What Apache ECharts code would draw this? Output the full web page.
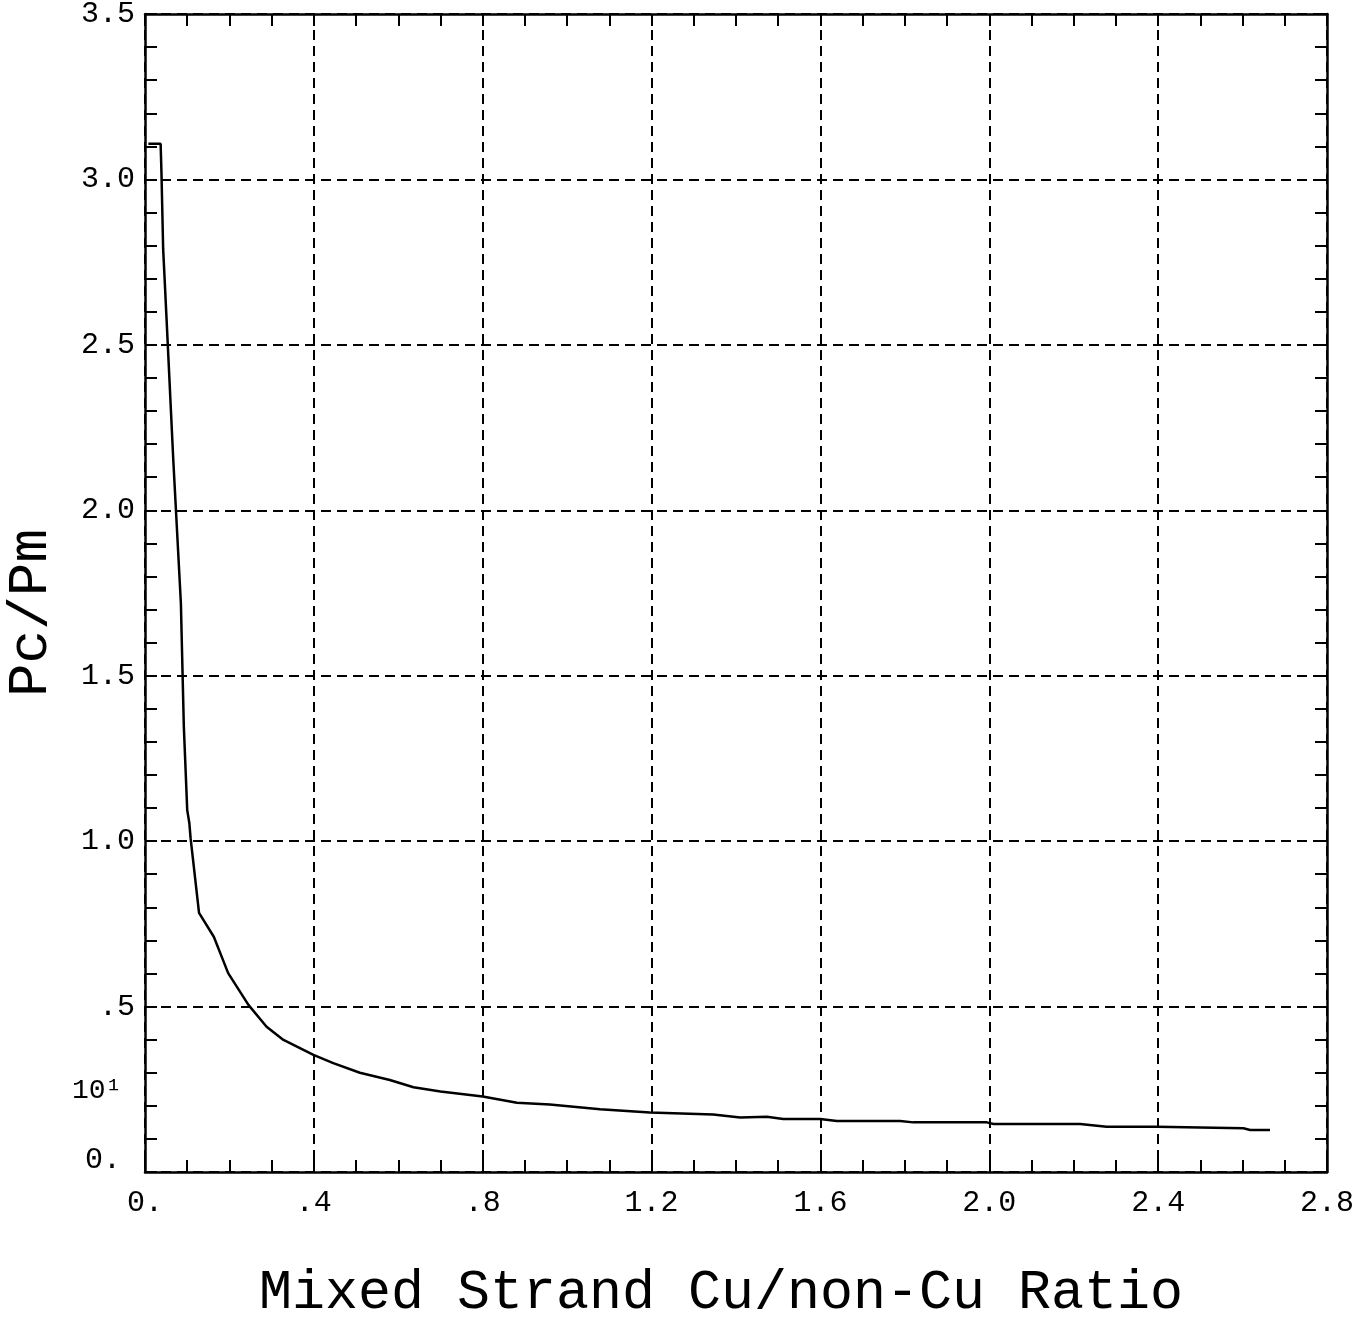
<!DOCTYPE html>
<html>
<head>
<meta charset="utf-8">
<script src="https://cdn.jsdelivr.net/npm/echarts@6/dist/echarts.min.js"></script>
<style>
html,body{margin:0;padding:0;background:#fff;overflow:hidden;}
#c{width:1362px;height:1319px;}
</style>
</head>
<body>
<div id="c"></div>
<script>
// ---- data ----
var ratioX = [0.008, 0.037, 0.039, 0.043, 0.051, 0.067, 0.085, 0.092, 0.100, 0.105, 0.108, 0.128, 0.163, 0.197, 0.245, 0.288, 0.328, 0.399, 0.446, 0.509, 0.580, 0.636, 0.700, 0.800, 0.881, 0.959, 1.078, 1.196, 1.346, 1.410, 1.473, 1.512, 1.599, 1.639, 1.789, 1.820, 1.994, 2.010, 2.215, 2.278, 2.397, 2.602, 2.618, 2.665];
var pcPm   = [3.108, 3.108, 3.020, 2.790, 2.580, 2.152, 1.719, 1.346, 1.094, 1.055, 1.009, 0.783, 0.711, 0.601, 0.505, 0.439, 0.399, 0.354, 0.329, 0.300, 0.278, 0.256, 0.243, 0.228, 0.209, 0.204, 0.190, 0.180, 0.174, 0.165, 0.167, 0.160, 0.160, 0.154, 0.154, 0.150, 0.150, 0.145, 0.145, 0.137, 0.137, 0.132, 0.127, 0.127];
var xTickLabels = ['0.', '.4', '.8', '1.2', '1.6', '2.0', '2.4', '2.8'];
var yTickLabels = ['0.', '.5', '1.0', '1.5', '2.0', '2.5', '3.0', '3.5'];
var xTitle = 'Mixed Strand Cu/non-Cu Ratio';
var yTitle = 'Pc/Pm';
var strayLabel = '10¹';

var points = ratioX.map(function (x, i) { return [x, pcPm[i]]; });
var FONT = 'Liberation Mono';

var chart = echarts.init(document.getElementById('c'), null, {renderer: 'canvas'});

function baseX(pos, showLabel) {
  return {
    type: 'value', position: pos, min: 0, max: 2.8, interval: 0.4,
    axisLine: {show: true, onZero: false, lineStyle: {color: '#000', width: 2.5}},
    axisTick: {show: true, inside: true, length: 12, lineStyle: {color: '#000', width: 2}},
    minorTick: {show: true, splitNumber: 4, length: 12, lineStyle: {color: '#000', width: 2}},
    splitLine: {show: showLabel, lineStyle: {color: '#000', width: 2, type: [10, 6]}},
    axisLabel: {
      show: showLabel, margin: 16, color: '#000', fontFamily: FONT, fontSize: 30,
      formatter: function (v) { return xTickLabels[Math.round(v / 0.4)]; }
    }
  };
}
function baseY(pos, showLabel) {
  return {
    type: 'value', position: pos, min: 0, max: 3.5, interval: 0.5,
    axisLine: {show: true, onZero: false, lineStyle: {color: '#000', width: 2.5}},
    axisTick: {show: true, inside: true, length: 12, lineStyle: {color: '#000', width: 2}},
    minorTick: {show: true, splitNumber: 5, length: 12, lineStyle: {color: '#000', width: 2}},
    splitLine: {show: showLabel, lineStyle: {color: '#000', width: 2, type: [10, 6]}},
    axisLabel: {
      show: showLabel, margin: 10, color: '#000', fontFamily: FONT, fontSize: 30,
      formatter: function (v) {
        var i = Math.round(v / 0.5);
        return i === 0 ? '{z|' + yTickLabels[i] + '}' : yTickLabels[i];
      },
      rich: {z: {fontFamily: FONT, fontSize: 30, color: '#000', padding: [0, 14, 24, 0]}}
    }
  };
}

var xa = baseX('bottom', true);
xa.name = xTitle; xa.nameLocation = 'middle'; xa.nameGap = 94;
xa.nameTextStyle = {fontFamily: FONT, fontSize: 55, color: '#000', padding: [0, 30, 0, 0]};
var ya = baseY('left', true);
ya.name = yTitle; ya.nameLocation = 'middle'; ya.nameGap = 86; ya.nameRotate = 90;
ya.nameTextStyle = {fontFamily: FONT, fontSize: 56, color: '#000', padding: [0, 0, 0, -40]};

chart.setOption({
  backgroundColor: '#fff',
  animation: false,
  grid: {left: 145, right: 35, top: 14, bottom: 147, containLabel: false, outerBoundsMode: 'none'},
  xAxis: [xa, baseX('top', false)],
  yAxis: [ya, baseY('right', false)],
  graphic: [{
    type: 'text', left: 72, top: 1077,
    style: {text: strayLabel, fontFamily: FONT, fontSize: 28, fill: '#000'}
  }],
  series: [{
    type: 'line', xAxisIndex: 0, yAxisIndex: 0,
    data: points, showSymbol: false, smooth: false,
    lineStyle: {color: '#000', width: 2.5}
  }]
});
</script>
</body>
</html>
